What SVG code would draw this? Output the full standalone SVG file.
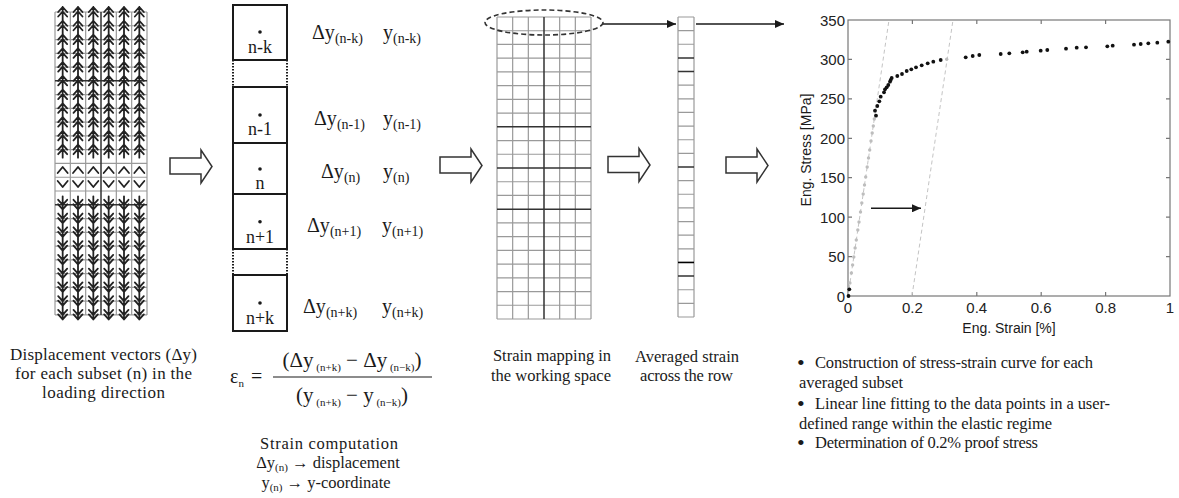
<svg xmlns="http://www.w3.org/2000/svg" xmlns:xlink="http://www.w3.org/1999/xlink" width="1179" height="498" viewBox="0 0 1179 498">
<style>
.serif{font-family:"Liberation Serif","DejaVu Serif",serif;fill:#1a1a1a}
.sans{font-family:"Liberation Sans","DejaVu Sans",sans-serif;fill:#1a1a1a}
.cap{font-size:17px}
.bul{font-size:16.5px}
.lab{font-size:20px}
.sub{font-size:14px}
.fs{font-size:11px}
.box{fill:none;stroke:#1a1a1a;stroke-width:2}
.dotted{fill:none;stroke:#1a1a1a;stroke-width:2;stroke-dasharray:1.5 1.5}
.gthin{fill:none;stroke:#9a9a9a;stroke-width:1.2}
.gthick{fill:none;stroke:#333;stroke-width:1.5}
.arw{fill:none;stroke:#222;stroke-width:1.8;stroke-linecap:round;stroke-linejoin:round}
.hollow{fill:#fff;stroke:#333;stroke-width:1.5;stroke-linejoin:miter}
.conn{fill:none;stroke:#1a1a1a;stroke-width:1.5}
.axis{fill:none;stroke:#777;stroke-width:1.2}
.tick{font-size:15px;fill:#222}
.bd{fill:#111}
.gd{fill:#bdbdbd}
.fit{fill:none;stroke:#c4c4c4;stroke-width:1;stroke-dasharray:4 3}
.bullet{font-size:22px}
</style>
<defs>
<marker id="ah" markerWidth="10" markerHeight="8" refX="9" refY="4" orient="auto" markerUnits="userSpaceOnUse">
<path d="M0,0 L9,4 L0,8 Z" fill="#1a1a1a"/>
</marker>
<path id="ua" class="arw" d="M0,6.5V-6.5M-4.5,-1.5L0,-6.5L4.5,-1.5M-4.5,3L0,-2L4.5,3"/>
<path id="da" class="arw" d="M0,-6.5V6.5M-4.5,1.5L0,6.5L4.5,1.5M-4.5,-3L0,2L4.5,-3"/>
<path id="uc" class="arw" d="M-5,3L0,-3L5,3"/>
<path id="dc" class="arw" d="M-5,-3L0,3L5,-3"/>
<g id="urow"><use href="#ua" x="62.67"/><use href="#ua" x="78"/><use href="#ua" x="93.33"/><use href="#ua" x="108.67"/><use href="#ua" x="124"/><use href="#ua" x="139.33"/></g>
<g id="drow"><use href="#da" x="62.67"/><use href="#da" x="78"/><use href="#da" x="93.33"/><use href="#da" x="108.67"/><use href="#da" x="124"/><use href="#da" x="139.33"/></g>
<g id="ucrow"><use href="#uc" x="62.67"/><use href="#uc" x="78"/><use href="#uc" x="93.33"/><use href="#uc" x="108.67"/><use href="#uc" x="124"/><use href="#uc" x="139.33"/></g>
<g id="dcrow"><use href="#dc" x="62.67"/><use href="#dc" x="78"/><use href="#dc" x="93.33"/><use href="#dc" x="108.67"/><use href="#dc" x="124"/><use href="#dc" x="139.33"/></g>
<path id="hollow" class="hollow" d="M0,0 H31 V-8 L42,8.5 L31,25 V16 H0 Z"/>
</defs>

<!-- Displacement vector grid -->
<g id="vector-grid">
<path class="gthin" d="M55,12V315M70.33,12V315M85.67,12V315M116.33,12V315M131.67,12V315M147,12V315
M55,12H147M55,25.77H147M55,39.54H147M55,53.31H147M55,67.08H147M55,94.62H147M55,108.39H147M55,122.16H147M55,135.93H147M55,149.7H147M55,163.47H147M55,177.24H147M55,191.01H147M55,218.55H147M55,232.32H147M55,246.09H147M55,259.86H147M55,273.63H147M55,287.4H147M55,301.17H147M55,314.94H147"/>
<path class="gthick" d="M101,12V315M55,80.85H147M55,204.78H147"/>
<use href="#urow" y="13.5"/><use href="#urow" y="27.27"/><use href="#urow" y="41.04"/><use href="#urow" y="54.81"/><use href="#urow" y="68.58"/><use href="#urow" y="82.35"/><use href="#urow" y="96.12"/><use href="#urow" y="109.89"/><use href="#urow" y="123.66"/><use href="#urow" y="137.43"/><use href="#urow" y="151.2"/>
<use href="#ucrow" y="170"/>
<use href="#dcrow" y="184"/>
<use href="#drow" y="202.78"/><use href="#drow" y="216.55"/><use href="#drow" y="230.32"/><use href="#drow" y="244.09"/><use href="#drow" y="257.86"/><use href="#drow" y="271.63"/><use href="#drow" y="285.4"/><use href="#drow" y="299.17"/><use href="#drow" y="312.94"/>
</g>

<!-- Subset column -->
<g id="subsets">
<rect class="box" x="233" y="5" width="54" height="55"/>
<path class="dotted" d="M233,60V87M287,60V87"/>
<rect class="box" x="233" y="87" width="54" height="56"/>
<rect class="box" x="233" y="143" width="54" height="51"/>
<rect class="box" x="233" y="194" width="54" height="55"/>
<path class="dotted" d="M233,249V275M287,249V275"/>
<rect class="box" x="233" y="275" width="54" height="56"/>
<circle cx="260" cy="32" r="1.8" fill="#1a1a1a"/>
<circle cx="260" cy="115" r="1.8" fill="#1a1a1a"/>
<circle cx="260" cy="169" r="1.8" fill="#1a1a1a"/>
<circle cx="260" cy="221.7" r="1.8" fill="#1a1a1a"/>
<circle cx="260" cy="303" r="1.8" fill="#1a1a1a"/>
<text class="serif" font-size="18" x="260" y="53" text-anchor="middle">n-k</text>
<text class="serif" font-size="18" x="260" y="135" text-anchor="middle">n-1</text>
<text class="serif" font-size="18" x="260" y="189" text-anchor="middle">n</text>
<text class="serif" font-size="18" x="260" y="243" text-anchor="middle">n+1</text>
<text class="serif" font-size="18" x="260" y="324" text-anchor="middle">n+k</text>
</g>

<g id="subset-values">
<text class="serif lab" x="312" y="39">Δy<tspan class="sub" dy="4">(n-k)</tspan></text>
<text class="serif lab" x="383" y="39">y<tspan class="sub" dy="4">(n-k)</tspan></text>
<text class="serif lab" x="314" y="125">Δy<tspan class="sub" dy="4">(n-1)</tspan></text>
<text class="serif lab" x="383" y="125">y<tspan class="sub" dy="4">(n-1)</tspan></text>
<text class="serif lab" x="321" y="178">Δy<tspan class="sub" dy="4">(n)</tspan></text>
<text class="serif lab" x="383" y="178">y<tspan class="sub" dy="4">(n)</tspan></text>
<text class="serif lab" x="307" y="232">Δy<tspan class="sub" dy="4">(n+1)</tspan></text>
<text class="serif lab" x="382" y="232">y<tspan class="sub" dy="4">(n+1)</tspan></text>
<text class="serif lab" x="303" y="313">Δy<tspan class="sub" dy="4">(n+k)</tspan></text>
<text class="serif lab" x="382" y="313">y<tspan class="sub" dy="4">(n+k)</tspan></text>
</g>

<!-- Strain map grid -->
<g id="strain-map">
<path class="gthin" d="M497,17V319M512.67,17V319M528.33,17V319M559.67,17V319M575.33,17V319M591,17V319
M497,17H591M497,30.73H591M497,44.45H591M497,58.18H591M497,71.91H591M497,85.64H591M497,99.36H591M497,113.09H591M497,140.55H591M497,154.27H591M497,181.73H591M497,195.45H591M497,222.91H591M497,236.64H591M497,250.36H591M497,264.09H591M497,277.82H591M497,291.55H591M497,305.27H591M497,319H591"/>
<path class="gthick" d="M544,17V319M497,126.82H591M497,168H591M497,209.18H591"/>
<ellipse cx="544" cy="22.5" rx="59" ry="12.5" fill="none" stroke="#333" stroke-width="1.6" stroke-dasharray="5 3"/>
</g>

<!-- Averaged column -->
<g id="averaged">
<path class="gthin" d="M678,17V317M694,17V317
M678,17H694M678,30.64H694M678,44.27H694M678,85.18H694M678,98.82H694M678,112.45H694M678,126.09H694M678,139.73H694M678,153.36H694M678,180.64H694M678,194.27H694M678,207.91H694M678,221.55H694M678,235.18H694M678,248.82H694M678,289.73H694M678,303.36H694M678,317H694"/>
<path class="gthick" d="M678,57.91H694M678,71.55H694M678,167H694M678,276.09H694"/>
<path fill="none" stroke="#000" stroke-width="1.6" d="M678,262.45H694"/>
</g>

<!-- Chart -->
<g id="chart">
<rect class="axis" x="848" y="20" width="322" height="276"/>
<path class="axis" d="M912.4,296V292M976.8,296V292M1041.2,296V292M1105.6,296V292M912.4,20V24M976.8,20V24M1041.2,20V24M1105.6,20V24
M848,256.6H852M848,217.1H852M848,177.7H852M848,138.3H852M848,98.9H852M848,59.4H852M1170,256.6H1166M1170,217.1H1166M1170,177.7H1166M1170,138.3H1166M1170,98.9H1166M1170,59.4H1166"/>
<g class="sans tick" text-anchor="end">
<text x="845" y="301.5">0</text><text x="845" y="262">50</text><text x="845" y="222.6">100</text><text x="845" y="183.2">150</text><text x="845" y="143.8">200</text><text x="845" y="104.4">250</text><text x="845" y="64.9">300</text><text x="845" y="25.5">350</text>
</g>
<g class="sans tick" text-anchor="middle">
<text x="848" y="312.7">0</text><text x="912.4" y="312.7">0.2</text><text x="976.8" y="312.7">0.4</text><text x="1041.2" y="312.7">0.6</text><text x="1105.6" y="312.7">0.8</text><text x="1170" y="312.7">1</text>
</g>
<text class="sans" font-size="14" x="1009" y="333" text-anchor="middle">Eng. Strain [%]</text>
<text class="sans" font-size="14" transform="translate(811,150) rotate(-90)" text-anchor="middle">Eng. Stress [MPa]</text>
<path class="fit" d="M848,296L889,20M912,296L953,20"/>
<g class="gd">
<circle cx="849.9" cy="283" r="1.7"/><circle cx="851.4" cy="273" r="1.7"/><circle cx="852.6" cy="265" r="1.7"/><circle cx="853.8" cy="257" r="1.7"/><circle cx="855.1" cy="248" r="1.7"/><circle cx="856.3" cy="240" r="1.7"/><circle cx="857.8" cy="230" r="1.7"/><circle cx="859" cy="222" r="1.7"/><circle cx="860.5" cy="212" r="1.7"/><circle cx="861.8" cy="203" r="1.7"/><circle cx="863.2" cy="194" r="1.7"/><circle cx="864.5" cy="185" r="1.7"/><circle cx="865.7" cy="177" r="1.7"/><circle cx="867.2" cy="167" r="1.7"/><circle cx="868.5" cy="158" r="1.7"/><circle cx="869.7" cy="150" r="1.7"/><circle cx="871" cy="141" r="1.7"/><circle cx="872.2" cy="133" r="1.7"/><circle cx="873.3" cy="126" r="1.7"/><circle cx="874.3" cy="119" r="1.7"/><circle cx="946.7" cy="59.3" r="1.7"/>
</g>
<g class="bd">
<circle cx="848.5" cy="296" r="1.9"/><circle cx="849.3" cy="289.3" r="1.9"/>
<circle cx="875" cy="110.7" r="1.9"/><circle cx="876" cy="115.7" r="1.9"/><circle cx="877.3" cy="106" r="1.9"/><circle cx="879.3" cy="101.3" r="1.9"/><circle cx="880.7" cy="96.7" r="1.9"/><circle cx="884" cy="92.3" r="1.9"/><circle cx="885" cy="89.3" r="1.9"/><circle cx="886.7" cy="87.3" r="1.9"/><circle cx="888.3" cy="85" r="1.9"/><circle cx="890" cy="81.7" r="1.9"/><circle cx="890.7" cy="80" r="1.9"/><circle cx="891.7" cy="78" r="1.9"/><circle cx="897.3" cy="76" r="1.9"/><circle cx="902" cy="74" r="1.9"/><circle cx="906.7" cy="71" r="1.9"/><circle cx="911.3" cy="69.3" r="1.9"/><circle cx="916" cy="67.3" r="1.9"/><circle cx="921.7" cy="65.3" r="1.9"/><circle cx="927.7" cy="63.3" r="1.9"/><circle cx="933.3" cy="61.7" r="1.9"/><circle cx="940.7" cy="60" r="1.9"/>
<circle cx="965.7" cy="57.3" r="1.9"/><circle cx="972.7" cy="56" r="1.9"/><circle cx="979.3" cy="55" r="1.9"/><circle cx="1000.7" cy="54" r="1.9"/><circle cx="1009.3" cy="53.3" r="1.9"/><circle cx="1022.7" cy="52.3" r="1.9"/><circle cx="1026.7" cy="51.7" r="1.9"/><circle cx="1040.7" cy="50.7" r="1.9"/><circle cx="1047.3" cy="50" r="1.9"/><circle cx="1066" cy="48.7" r="1.9"/><circle cx="1076.7" cy="47.7" r="1.9"/><circle cx="1086" cy="47.3" r="1.9"/><circle cx="1107.3" cy="46.3" r="1.9"/><circle cx="1112.7" cy="45.7" r="1.9"/><circle cx="1134" cy="44.7" r="1.9"/><circle cx="1140.7" cy="44" r="1.9"/><circle cx="1148.3" cy="43.3" r="1.9"/><circle cx="1157.3" cy="42.7" r="1.9"/><circle cx="1168.3" cy="41.7" r="1.9"/>
</g>
<line class="conn" x1="871" y1="208.3" x2="921" y2="208.3" stroke-width="2" marker-end="url(#ah)"/>
</g>

<!-- Connectors -->
<g id="connectors">
<use href="#hollow" x="170" y="158"/>
<use href="#hollow" x="440" y="157"/>
<use href="#hollow" x="608" y="156.5"/>
<use href="#hollow" x="726" y="157"/>
<line class="conn" x1="603" y1="24" x2="676" y2="24" marker-end="url(#ah)"/>
<line class="conn" x1="696" y1="24" x2="784" y2="24" marker-end="url(#ah)"/>
</g>

<!-- Captions -->
<g id="caption-vectors" class="serif cap" text-anchor="middle">
<text x="103.5" y="360" textLength="187">Displacement vectors (Δy)</text>
<text x="103.5" y="379" textLength="177">for each subset (n) in the</text>
<text x="103.5" y="398" textLength="123">loading direction</text>
</g>

<g id="formula" class="serif">
<text font-size="20" x="230" y="383">ε<tspan font-size="11" dy="4">n</tspan></text>
<text font-size="20" x="251" y="383">=</text>
<line x1="273" y1="377" x2="432" y2="377" stroke="#1a1a1a" stroke-width="1.2"/>
<text font-size="21" x="352" y="367" text-anchor="middle">(Δy<tspan class="fs" dy="4"> (n+k)</tspan><tspan dy="-4"> − Δy</tspan><tspan class="fs" dy="4"> (n−k)</tspan><tspan dy="-4">)</tspan></text>
<text font-size="21" x="352" y="402" text-anchor="middle">(y<tspan class="fs" dy="4"> (n+k)</tspan><tspan dy="-4"> − y</tspan><tspan class="fs" dy="4"> (n−k)</tspan><tspan dy="-4">)</tspan></text>
</g>

<g id="caption-strain" class="serif bul" text-anchor="middle">
<text x="329" y="449" textLength="138">Strain computation</text>
<text x="328" y="468">Δy<tspan font-size="11" dy="3">(n)</tspan><tspan dy="-3"> → displacement</tspan></text>
<text x="326" y="488">y<tspan font-size="11" dy="3">(n)</tspan><tspan dy="-3"> → y-coordinate</tspan></text>
</g>

<g id="caption-map" class="serif bul" text-anchor="middle">
<text x="552" y="361">Strain mapping in</text>
<text x="551" y="381">the working space</text>
</g>

<g id="caption-avg" class="serif bul" text-anchor="middle">
<text x="687" y="361.5" textLength="104">Averaged strain</text>
<text x="686.5" y="380.5" textLength="93">across the row</text>
</g>

<g id="caption-curve" class="serif bul">
<text class="bullet" x="797" y="370">•</text>
<text x="815" y="367.5" textLength="278">Construction of stress-strain curve for each</text>
<text x="799" y="388" textLength="104">averaged subset</text>
<text class="bullet" x="797" y="411">•</text>
<text x="815" y="409" textLength="295">Linear line fitting to the data points in a user-</text>
<text x="799" y="429" textLength="253">defined range within the elastic regime</text>
<text class="bullet" x="797" y="450">•</text>
<text x="815" y="448" textLength="223">Determination of 0.2% proof stress</text>
</g>
</svg>
